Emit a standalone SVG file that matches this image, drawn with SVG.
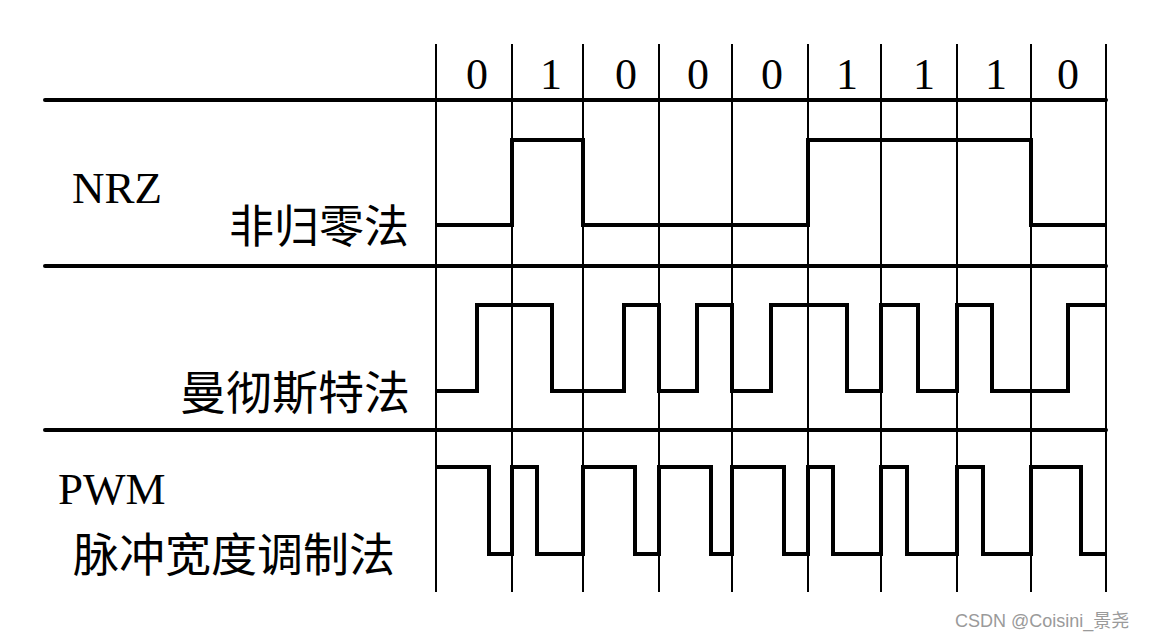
<svg xmlns="http://www.w3.org/2000/svg" width="1149" height="637" viewBox="0 0 1149 637">
<style>
.grid{stroke:#000;stroke-width:2;fill:none}
.sep{stroke:#000;stroke-width:4;stroke-linecap:round;fill:none}
.sig{stroke:#000;stroke-width:4;fill:none;stroke-linejoin:miter;stroke-linecap:butt}
.bit{font-family:"Liberation Serif","Times New Roman",serif;font-size:44px;fill:#000;text-anchor:middle}
.lat{font-family:"Liberation Serif","Times New Roman",serif;font-size:45px;fill:#000}
.cjk{font-family:"Noto Sans CJK SC","Noto Sans CJK TC",sans-serif;font-size:45px;fill:#000}
.wm{font-family:"Liberation Sans","Noto Sans CJK SC",sans-serif;font-size:18px;fill:#9a9a9a}
</style>
<rect width="1149" height="637" fill="#fff"/>
<g id="connectors">
  <g id="grid">
    <line class="grid" x1="436" y1="44" x2="436" y2="592"/>
    <line class="grid" x1="512" y1="44" x2="512" y2="592"/>
    <line class="grid" x1="583" y1="44" x2="583" y2="592"/>
    <line class="grid" x1="659" y1="44" x2="659" y2="592"/>
    <line class="grid" x1="732" y1="44" x2="732" y2="592"/>
    <line class="grid" x1="808" y1="44" x2="808" y2="592"/>
    <line class="grid" x1="881" y1="44" x2="881" y2="592"/>
    <line class="grid" x1="957" y1="44" x2="957" y2="592"/>
    <line class="grid" x1="1031" y1="44" x2="1031" y2="592"/>
    <line class="grid" x1="1106" y1="44" x2="1106" y2="592"/>
    <line class="sep" x1="45" y1="100" x2="1106" y2="100"/>
    <line class="sep" x1="45" y1="266" x2="1106" y2="266"/>
    <line class="sep" x1="45" y1="430" x2="1106" y2="430"/>
  </g>
  <path id="nrz-wave" class="sig" d="M436,225 H512 V140 H583 V225 H808 V140 H1031 V225 H1106"/>
  <path id="manchester-wave" class="sig" d="M436,391 H477 V305 H552 V391 H624 V305 H659 V391 H697 V305 H732 V391 H771 V305 H847 V391 H881 V305 H918 V391 H957 V305 H992 V391 H1068 V305 H1106"/>
  <path id="pwm-wave" class="sig" d="M436,467 H489 V554 H512 V467 H537 V554 H583 V467 H635 V554 H659 V467 H711 V554 H732 V467 H784 V554 H808 V467 H833 V554 H881 V467 H907 V554 H957 V467 H983 V554 H1031 V467 H1081 V554 H1106"/>
</g>
<g id="bits">
  <text class="bit" x="477" y="89">0</text>
  <text class="bit" x="551" y="89">1</text>
  <text class="bit" x="626" y="89">0</text>
  <text class="bit" x="698" y="89">0</text>
  <text class="bit" x="772" y="89">0</text>
  <text class="bit" x="847" y="89">1</text>
  <text class="bit" x="924" y="89">1</text>
  <text class="bit" x="996" y="89">1</text>
  <text class="bit" x="1068" y="89">0</text>
</g>
<g id="nrz-label">
  <text class="lat" x="72" y="203">NRZ</text>
  <text class="cjk" x="409" y="243" text-anchor="end">非归零法</text>
</g>
<g id="manchester-label">
  <text class="cjk" x="410" y="409" text-anchor="end" style="font-size:46px">曼彻斯特法</text>
</g>
<g id="pwm-label">
  <text class="lat" x="58" y="504">PWM</text>
  <text class="cjk" x="73" y="571" style="font-size:46px">脉冲宽度调制法</text>
</g>
<g id="watermark">
  <text class="wm" x="955" y="627">CSDN @Coisini_景尧</text>
</g>
</svg>
